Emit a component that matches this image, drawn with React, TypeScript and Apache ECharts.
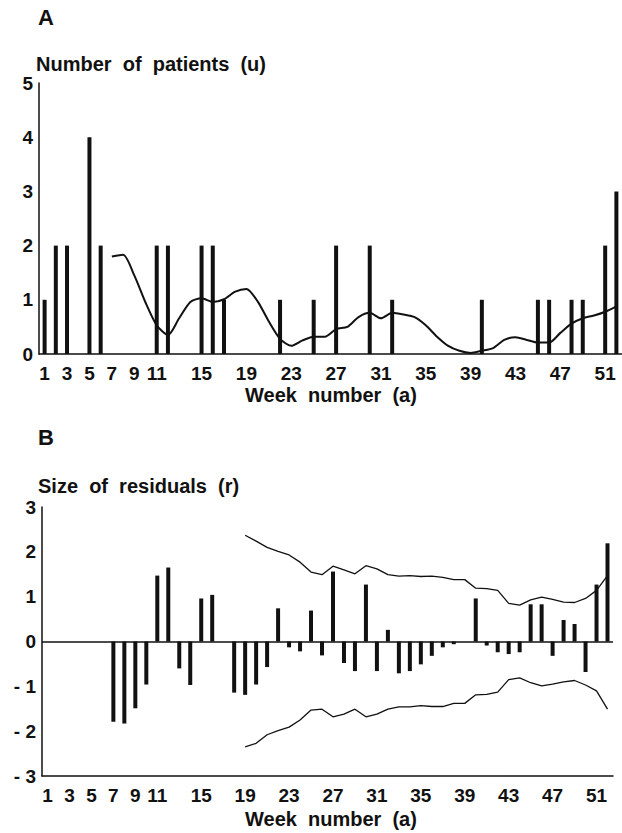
import React, { useEffect, useRef } from "react";
import * as echarts from "echarts";

const weeks: string[] = Array.from({ length: 52 }, (_, i) => String(i + 1));
const xTickLabels: string[] = ["1", "3", "5", "7", "9", "11", "15", "19", "23", "27", "31", "35", "39", "43", "47", "51"];

// Panel A: observed number of patients per week (u)
const patients: number[] = [
  1, 2, 2, 0, 4, 2, 0, 0, 0, 0,
  2, 2, 0, 0, 2, 2, 1, 0, 0, 0,
  0, 1, 0, 0, 1, 0, 2, 0, 0, 2,
  0, 1, 0, 0, 0, 0, 0, 0, 0, 1,
  0, 0, 0, 0, 1, 1, 0, 1, 1, 0,
  2, 3,
];

// Panel A: expected (smoothed) curve, starts at week 7
const expected: (number | null)[] = [
  null, null, null, null, null, null, 1.8, 1.83, 1.45, 0.95,
  0.53, 0.35, 0.66, 0.96, 1.03, 0.96, 1.01, 1.15, 1.2, 0.97,
  0.6, 0.28, 0.15, 0.25, 0.32, 0.32, 0.46, 0.5, 0.68, 0.76,
  0.66, 0.76, 0.73, 0.68, 0.53, 0.32, 0.15, 0.06, 0.02, 0.06,
  0.11, 0.26, 0.31, 0.26, 0.21, 0.21, 0.39, 0.56, 0.66, 0.71,
  0.78, 0.88,
];

// Panel B: residuals (r)
const residuals: number[] = [
  0, 0, 0, 0, 0, 0, -1.79, -1.83, -1.49, -0.96,
  1.47, 1.65, -0.6, -0.97, 0.96, 1.04, 0, -1.14, -1.19, -0.96,
  -0.57, 0.74, -0.13, -0.22, 0.69, -0.31, 1.56, -0.48, -0.66, 1.27,
  -0.66, 0.26, -0.71, -0.66, -0.51, -0.32, -0.13, -0.06, 0, 0.96,
  -0.09, -0.24, -0.28, -0.24, 0.83, 0.83, -0.32, 0.48, 0.39, -0.68,
  1.27, 2.19,
];

// Panel B: control limits, from week 19
const upperLimit: (number | null)[] = [
  null, null, null, null, null, null, null, null, null, null,
  null, null, null, null, null, null, null, null, 2.37, 2.24,
  2.1, 2.01, 1.93, 1.77, 1.55, 1.49, 1.68, 1.6, 1.51, 1.69,
  1.62, 1.49, 1.46, 1.47, 1.45, 1.46, 1.43, 1.38, 1.38, 1.19,
  1.18, 1.14, 0.85, 0.81, 0.93, 0.99, 0.94, 0.88, 0.87, 0.96,
  1.14, 1.47,
];
const lowerLimit: (number | null)[] = [
  null, null, null, null, null, null, null, null, null, null,
  null, null, null, null, null, null, null, null, -2.35, -2.27,
  -2.08, -1.99, -1.91, -1.75, -1.53, -1.51, -1.68, -1.62, -1.51, -1.68,
  -1.62, -1.51, -1.46, -1.46, -1.43, -1.45, -1.45, -1.38, -1.38, -1.19,
  -1.18, -1.13, -0.85, -0.81, -0.92, -0.99, -0.95, -0.9, -0.87, -0.97,
  -1.1, -1.51,
];

const INK = "#111";
const FONT = "'Liberation Sans', Arial, sans-serif";

export default function App() {
  const ref = useRef<HTMLDivElement>(null);
  useEffect(() => {
    if (!ref.current) return;
    const chart = echarts.init(ref.current, undefined, { renderer: "svg" });
    const xAxisBase = (gridIndex: number) => ({
      type: "category" as const,
      gridIndex,
      data: weeks,
      boundaryGap: true,
      axisLine: { show: true, onZero: false, lineStyle: { color: INK, width: 1.5 } },
      axisTick: { show: false },
      splitLine: { show: false },
      axisLabel: {
        interval: (_i: number, v: string) => xTickLabels.includes(v),
        color: INK,
        fontFamily: FONT,
        fontWeight: "bold" as const,
        fontSize: 19,
        margin: 10,
      },
    });
    const yLabel = {
      color: INK,
      fontFamily: FONT,
      fontWeight: "bold" as const,
      fontSize: 19,
      margin: 6,
    };
    const titleStyle = (text: string, size = 20) => ({
      text,
      fill: INK,
      font: `bold ${size}px ${FONT}`,
    });
    chart.setOption({
      animation: false,
      backgroundColor: "#fff",
      grid: [
        { left: 39, right: 0, top: 83, bottom: 479 },
        { left: 42, right: 9, top: 507, bottom: 57 },
      ],
      xAxis: [xAxisBase(0), xAxisBase(1)],
      yAxis: [
        {
          type: "value",
          gridIndex: 0,
          min: 0,
          max: 5,
          interval: 1,
          axisLine: { show: true, lineStyle: { color: INK, width: 1.5 } },
          axisTick: { show: false },
          splitLine: { show: false },
          axisLabel: yLabel,
        },
        {
          type: "value",
          gridIndex: 1,
          min: -3,
          max: 3,
          interval: 1,
          axisLine: { show: true, onZero: false, lineStyle: { color: INK, width: 1.5 } },
          axisTick: { show: false },
          splitLine: { show: false },
          axisLabel: {
            ...yLabel,
            formatter: (v: number) => (v < 0 ? "- " + Math.abs(v) : String(v)),
          },
        },
      ],
      series: [
        {
          type: "bar",
          xAxisIndex: 0,
          yAxisIndex: 0,
          data: patients,
          barWidth: 4,
          itemStyle: { color: INK },
          silent: true,
        },
        {
          type: "line",
          xAxisIndex: 0,
          yAxisIndex: 0,
          data: expected,
          symbol: "none",
          smooth: 0.25,
          lineStyle: { color: INK, width: 2 },
          silent: true,
        },
        {
          type: "bar",
          xAxisIndex: 1,
          yAxisIndex: 1,
          data: residuals,
          barWidth: 4,
          itemStyle: { color: INK },
          silent: true,
          markLine: {
            silent: true,
            symbol: "none",
            label: { show: false },
            lineStyle: { color: INK, width: 1.5, type: "solid" },
            data: [{ yAxis: 0 }],
          },
        },
        {
          type: "line",
          xAxisIndex: 1,
          yAxisIndex: 1,
          data: upperLimit,
          symbol: "none",
          lineStyle: { color: INK, width: 1.3 },
          silent: true,
        },
        {
          type: "line",
          xAxisIndex: 1,
          yAxisIndex: 1,
          data: lowerLimit,
          symbol: "none",
          lineStyle: { color: INK, width: 1.3 },
          silent: true,
        },
      ],
      graphic: [
        { type: "text", left: 38, top: 6, style: titleStyle("A", 22) },
        { type: "text", left: 36, top: 54, style: titleStyle("Number  of  patients  (u)") },
        { type: "text", left: 245, top: 385, style: titleStyle("Week  number  (a)") },
        { type: "text", left: 38, top: 426, style: titleStyle("B", 22) },
        { type: "text", left: 38, top: 476, style: titleStyle("Size  of  residuals  (r)") },
        { type: "text", left: 245, top: 809, style: titleStyle("Week  number  (a)") },
      ],
    });
    return () => chart.dispose();
  }, []);
  return (
    <div
      ref={ref}
      style={{ position: "fixed", left: 0, top: 0, width: 622, height: 833, background: "#fff" }}
    />
  );
}
